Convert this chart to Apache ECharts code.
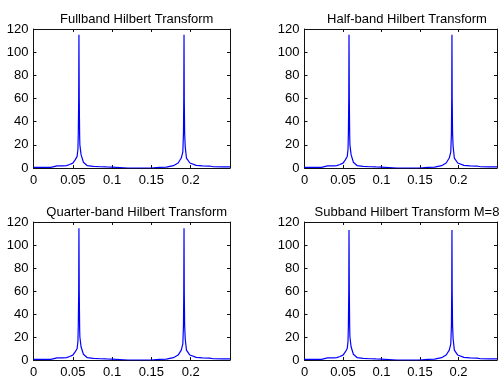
<!DOCTYPE html>
<html>
<head>
<meta charset="utf-8">
<script src="https://cdn.jsdelivr.net/npm/echarts@6/dist/echarts.min.js"></script>
<style>html,body{margin:0;padding:0;background:#fff;}#c{width:500px;height:379px;}</style>
</head>
<body>
<div id="c"></div>
<script>
// ---- data ----
var titles = ['Fullband Hilbert Transform', 'Half-band Hilbert Transform', 'Quarter-band Hilbert Transform', 'Subband Hilbert Transform M=8'];
var xTicks = [0, 0.05, 0.1, 0.15, 0.2, 0.25];
var yTicks = [0, 20, 40, 60, 80, 100, 120];
var freq = [0, 0.01, 0.022, 0.024, 0.03, 0.038, 0.042, 0.046, 0.05, 0.053, 0.0555, 0.0565, 0.057, 0.0575, 0.0578, 0.0582, 0.0587, 0.059, 0.0605, 0.0635, 0.0685, 0.076, 0.085, 0.093, 0.0995, 0.1, 0.12, 0.14, 0.1495, 0.15, 0.16, 0.169, 0.178, 0.184, 0.188, 0.19, 0.1908, 0.1912, 0.1915, 0.1918, 0.1923, 0.193, 0.1946, 0.199, 0.207, 0.215, 0.224, 0.2285, 0.24, 0.25];
var fullband = [0.6, 0.6, 0.6, 1.8, 1.8, 1.9, 2.1, 3.0, 4.2, 7, 10, 16, 30, 60, 115, 60, 28, 20, 11.5, 5, 2, 1.4, 1.1, 0.9, 0.8, 0, 0, 0, 0, 0.6, 0.6, 0.8, 2, 4.3, 8.6, 14, 30, 60, 115, 60, 30, 18.7, 8.6, 4.3, 2.3, 1.9, 1.7, 1.1, 0.9, 0.9];
var halfband = [0.6, 0.6, 0.6, 1.8, 1.8, 1.9, 2.1, 3.0, 4.2, 7, 10, 16, 30, 60, 115, 60, 28, 20, 11.5, 5, 2, 1.4, 1.1, 0.9, 0.8, 0, 0, 0, 0, 0.6, 0.6, 0.8, 2, 4.3, 8.6, 14, 30, 60, 115, 60, 30, 18.7, 8.6, 4.3, 2.3, 1.9, 1.7, 1.1, 0.9, 0.9];
var quarterband = [0.6, 0.6, 0.6, 1.8, 1.8, 1.9, 2.1, 3.0, 4.2, 7, 10, 16, 30, 60, 114.5, 60, 28, 20, 11.5, 5, 2, 1.4, 1.1, 0.9, 0.8, 0, 0, 0, 0, 0.6, 0.6, 0.8, 2, 4.3, 8.6, 14, 30, 60, 114.5, 60, 30, 18.7, 8.6, 4.3, 2.3, 1.9, 1.7, 1.1, 0.9, 0.9];
var subband = [0.6, 0.6, 0.6, 1.8, 1.8, 1.9, 2.1, 3.0, 4.2, 7, 10, 16, 30, 60, 113, 60, 28, 20, 11.5, 5, 2, 1.4, 1.1, 0.9, 0.8, 0, 0, 0, 0, 0.6, 0.6, 0.8, 2, 4.3, 8.6, 14, 30, 60, 113, 60, 30, 18.7, 8.6, 4.3, 2.3, 1.9, 1.7, 1.1, 0.9, 0.9];
var seriesValues = [fullband, halfband, quarterband, subband];

// ---- layout ----
var grids = [
  {left: 33.5, top: 29, width: 196.5, height: 139},
  {left: 304.5, top: 29, width: 195, height: 139},
  {left: 33.5, top: 222, width: 196.5, height: 140.3},
  {left: 304.5, top: 222, width: 195, height: 140.3}
];
var titleY = [8, 8, 201, 201];
var font = 'Liberation Sans, Arial, Helvetica, sans-serif';
var frameColor = '#111';

function fmtX(v) {
  if (v >= xTicks[xTicks.length - 1] - 1e-9) return '';
  return String(parseFloat(v.toFixed(2)));
}

var option = {
  backgroundColor: '#fff',
  animation: false,
  title: [], grid: [], xAxis: [], yAxis: [], series: []
};

for (var i = 0; i < 4; i++) {
  var g = grids[i];
  option.grid.push({left: g.left, top: g.top, width: g.width, height: g.height, containLabel: false});
  option.title.push({
    text: titles[i], left: g.left + g.width / 2, top: titleY[i], textAlign: 'center',
    textStyle: {fontFamily: font, fontSize: 13, fontWeight: 'normal', color: '#000'}
  });
  var xBase = {
    type: 'value', gridIndex: i, min: xTicks[0], max: xTicks[xTicks.length - 1],
    interval: xTicks[1] - xTicks[0],
    axisLine: {show: true, onZero: false, lineStyle: {color: frameColor, width: 1}},
    axisTick: {show: true, inside: true, length: 3, lineStyle: {color: frameColor}},
    splitLine: {show: false}
  };
  option.xAxis.push(Object.assign({}, xBase, {
    position: 'bottom',
    axisLabel: {show: true, margin: 6, fontFamily: font, fontSize: 13, color: '#000', formatter: fmtX, showMaxLabel: true}
  }));
  option.xAxis.push(Object.assign({}, xBase, {position: 'top', axisLabel: {show: false}}));
  var yBase = {
    type: 'value', gridIndex: i, min: yTicks[0], max: yTicks[yTicks.length - 1],
    interval: yTicks[1] - yTicks[0],
    axisLine: {show: true, onZero: false, lineStyle: {color: frameColor, width: 1}},
    axisTick: {show: true, inside: true, length: 3, lineStyle: {color: frameColor}},
    splitLine: {show: false}
  };
  option.yAxis.push(Object.assign({}, yBase, {
    position: 'left',
    axisLabel: {show: true, margin: 5, fontFamily: font, fontSize: 13, color: '#000'}
  }));
  option.yAxis.push(Object.assign({}, yBase, {position: 'right', axisLabel: {show: false}}));
  var pts = [];
  for (var k = 0; k < freq.length; k++) pts.push([freq[k], seriesValues[i][k]]);
  option.series.push({
    type: 'line', xAxisIndex: 2 * i, yAxisIndex: 2 * i, data: pts,
    showSymbol: false, symbol: 'none', smooth: false, clip: true,
    lineStyle: {color: '#0000ff', width: 1.2}
  });
}

var chart = echarts.init(document.getElementById('c'), null, {renderer: 'canvas'});
chart.setOption(option);
</script>
</body>
</html>
